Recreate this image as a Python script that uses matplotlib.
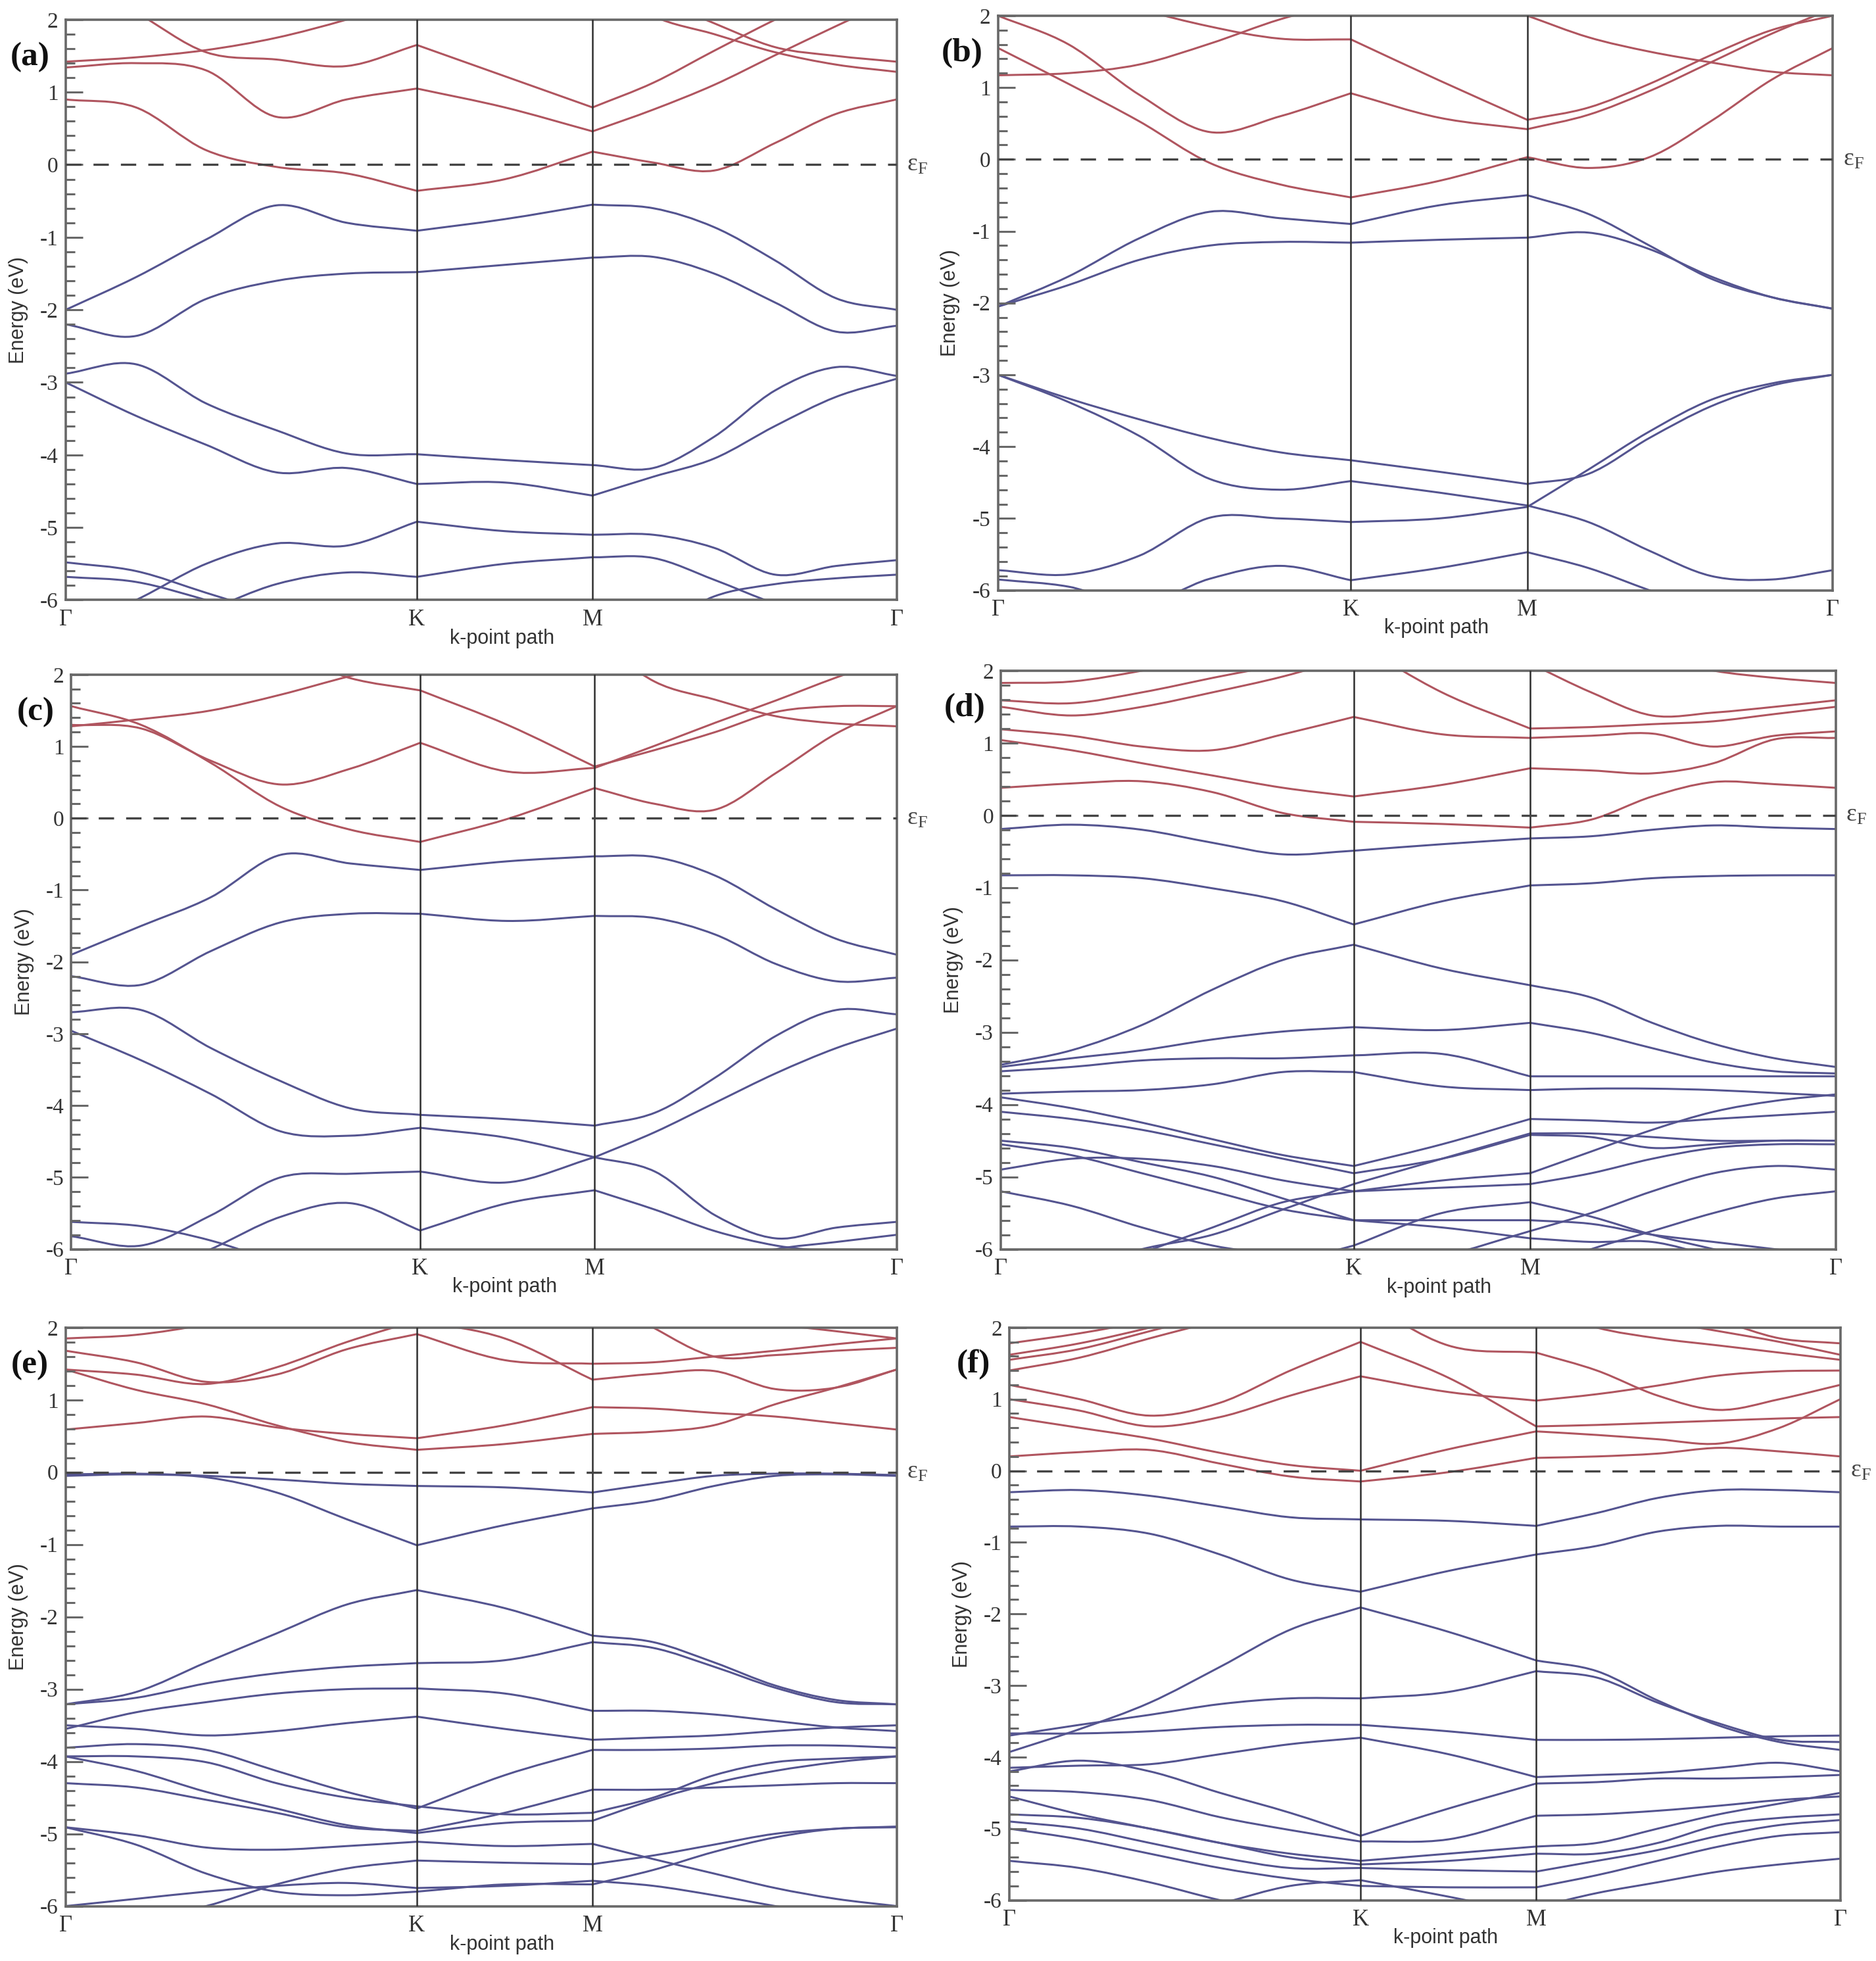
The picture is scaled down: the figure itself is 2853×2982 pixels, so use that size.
import numpy as np
import matplotlib
import matplotlib.pyplot as plt
from matplotlib.path import Path
from matplotlib.patches import PathPatch

plt.rcParams['axes.unicode_minus'] = False

# k-path sample positions (Gamma-K = 1, K-M = 0.5, M-Gamma = 0.866)
kx = [0, 0.2, 0.4, 0.6, 0.8, 1.0, 1.25, 1.5, 1.673, 1.846, 2.02, 2.193, 2.366]
k_ticks = [0, 1.0, 1.5, 2.366]
k_labels = ['Γ', 'K', 'M', 'Γ']
panel_names = ['(a)', '(b)', '(c)', '(d)', '(e)', '(f)']

# band energies (eV) read at the kx points, conduction (red) and valence (blue)
a_cb = [
    [0.90, 0.79, 0.20, -0.03, -0.12, -0.36, -0.20, 0.18, 0.03, -0.08, 0.30, 0.70, 0.90],
    [1.34, 1.40, 1.30, 0.66, 0.90, 1.05, 0.79, 0.46, 0.76, 1.10, 1.51, 1.91, 2.30],
    [1.42, 1.48, 1.58, 1.75, 2.00, 2.30, 2.60, 2.60, 2.30, 1.95, 1.62, 1.50, 1.42],
    [2.60, 2.10, 1.55, 1.45, 1.36, 1.65, 1.22, 0.79, 1.13, 1.57, 2.00, 2.40, 2.70],
    [2.80, 2.60, 2.30, 2.10, 2.20, 2.40, 2.60, 2.60, 2.05, 1.80, 1.55, 1.38, 1.28],
]
a_vb = [
    [-2.00, -1.55, -1.03, -0.56, -0.80, -0.91, -0.75, -0.55, -0.60, -0.86, -1.32, -1.84, -2.00],
    [-2.20, -2.36, -1.85, -1.60, -1.50, -1.48, -1.38, -1.28, -1.27, -1.50, -1.90, -2.30, -2.22],
    [-2.88, -2.75, -3.29, -3.66, -3.98, -3.99, -4.07, -4.14, -4.18, -3.75, -3.11, -2.79, -2.91],
    [-3.00, -3.46, -3.86, -4.24, -4.18, -4.40, -4.38, -4.56, -4.30, -4.05, -3.60, -3.20, -2.95],
    [-6.40, -6.00, -5.50, -5.22, -5.25, -4.92, -5.05, -5.10, -5.10, -5.28, -5.65, -5.53, -5.45],
    [-5.48, -5.60, -5.90, -6.20, -6.50, -6.60, -6.60, -6.60, -6.40, -5.95, -5.78, -5.70, -5.65],
    [-5.68, -5.75, -6.00, -6.30, -6.50, -6.60, -6.60, -6.60, -6.60, -6.50, -6.30, -6.10, -6.00],
    [-6.60, -6.50, -6.15, -5.78, -5.62, -5.68, -5.50, -5.41, -5.42, -5.72, -6.05, -6.30, -6.50],
]

b_cb = [
    [1.55, 1.05, 0.53, -0.05, -0.35, -0.53, -0.30, 0.03, -0.12, 0.03, 0.53, 1.11, 1.55],
    [2.00, 1.60, 0.90, 0.38, 0.60, 0.92, 0.58, 0.42, 0.62, 0.95, 1.35, 1.75, 2.10],
    [1.17, 1.20, 1.32, 1.61, 1.95, 2.20, 2.20, 2.00, 1.70, 1.50, 1.35, 1.22, 1.17],
    [2.60, 2.45, 2.10, 1.85, 1.68, 1.67, 1.10, 0.55, 0.72, 1.05, 1.45, 1.80, 2.00],
]
b_vb = [
    [-2.05, -1.63, -1.10, -0.73, -0.82, -0.90, -0.64, -0.50, -0.76, -1.20, -1.66, -1.92, -2.08],
    [-2.05, -1.75, -1.40, -1.20, -1.15, -1.16, -1.12, -1.09, -1.02, -1.25, -1.63, -1.92, -2.08],
    [-3.00, -3.33, -3.62, -3.88, -4.08, -4.19, -4.35, -4.52, -4.38, -3.88, -3.44, -3.15, -3.00],
    [-3.00, -3.38, -3.85, -4.45, -4.60, -4.48, -4.64, -4.82, -5.05, -5.45, -5.80, -5.85, -5.72],
    [-5.72, -5.78, -5.52, -4.99, -5.00, -5.05, -5.00, -4.84, -4.32, -3.79, -3.35, -3.12, -3.00],
    [-5.85, -5.95, -6.20, -5.84, -5.66, -5.86, -5.69, -5.47, -5.69, -6.00, -6.30, -6.20, -6.05],
]

c_cb = [
    [1.56, 1.30, 0.77, 0.16, -0.16, -0.33, -0.01, 0.42, 0.20, 0.12, 0.63, 1.18, 1.56],
    [1.30, 1.25, 0.80, 0.47, 0.69, 1.05, 0.65, 0.70, 1.01, 1.33, 1.64, 1.96, 2.25],
    [1.28, 1.38, 1.50, 1.72, 1.98, 2.20, 2.40, 2.50, 1.90, 1.65, 1.42, 1.32, 1.28],
    [2.60, 2.50, 2.35, 2.30, 1.95, 1.78, 1.30, 0.72, 0.95, 1.20, 1.48, 1.56, 1.56],
]
c_vb = [
    [-1.90, -1.50, -1.10, -0.51, -0.63, -0.72, -0.60, -0.53, -0.54, -0.80, -1.27, -1.68, -1.90],
    [-2.20, -2.32, -1.85, -1.45, -1.33, -1.33, -1.43, -1.36, -1.39, -1.62, -2.03, -2.27, -2.22],
    [-2.70, -2.67, -3.20, -3.66, -4.04, -4.13, -4.19, -4.28, -4.10, -3.61, -3.03, -2.67, -2.73],
    [-2.96, -3.37, -3.84, -4.36, -4.42, -4.31, -4.45, -4.72, -4.92, -5.53, -5.85, -5.70, -5.62],
    [-5.82, -5.95, -5.53, -5.00, -4.95, -4.92, -5.07, -4.72, -4.37, -3.96, -3.55, -3.20, -2.93],
    [-6.60, -6.40, -6.00, -5.55, -5.36, -5.74, -5.36, -5.18, -5.45, -5.75, -5.95, -6.05, -6.20],
    [-5.62, -5.68, -5.88, -6.20, -6.50, -6.60, -6.60, -6.50, -6.40, -6.20, -6.00, -5.90, -5.80],
]

d_cb = [
    [0.38, 0.44, 0.47, 0.32, 0.03, -0.09, -0.12, -0.17, -0.06, 0.26, 0.46, 0.43, 0.38],
    [1.04, 0.90, 0.72, 0.55, 0.38, 0.26, 0.42, 0.65, 0.62, 0.58, 0.72, 1.05, 1.07],
    [1.19, 1.10, 0.95, 0.90, 1.12, 1.36, 1.12, 1.07, 1.10, 1.13, 0.95, 1.10, 1.16],
    [1.50, 1.38, 1.50, 1.70, 1.92, 2.20, 2.40, 2.10, 1.70, 1.38, 1.42, 1.50, 1.59],
    [1.59, 1.55, 1.70, 1.90, 2.10, 2.40, 1.70, 1.20, 1.22, 1.26, 1.30, 1.40, 1.50],
    [1.83, 1.85, 2.00, 2.20, 2.40, 2.60, 2.60, 2.60, 2.40, 2.20, 2.00, 1.90, 1.83],
]
d_vb = [
    [-0.19, -0.13, -0.20, -0.38, -0.54, -0.49, -0.40, -0.32, -0.29, -0.20, -0.14, -0.17, -0.19],
    [-0.83, -0.83, -0.87, -1.01, -1.19, -1.51, -1.19, -0.97, -0.94, -0.87, -0.84, -0.83, -0.83],
    [-3.45, -3.25, -2.90, -2.41, -2.00, -1.79, -2.12, -2.35, -2.52, -2.87, -3.16, -3.36, -3.48],
    [-3.48, -3.36, -3.25, -3.10, -2.99, -2.93, -2.97, -2.87, -3.01, -3.22, -3.42, -3.54, -3.57],
    [-3.54, -3.48, -3.39, -3.36, -3.36, -3.32, -3.30, -3.61, -3.61, -3.61, -3.61, -3.61, -3.61],
    [-3.85, -3.82, -3.80, -3.72, -3.55, -3.55, -3.75, -3.80, -3.78, -3.78, -3.80, -3.84, -3.88],
    [-3.90, -4.05, -4.25, -4.48, -4.70, -4.85, -4.55, -4.20, -4.22, -4.25, -4.20, -4.15, -4.10],
    [-4.10, -4.20, -4.35, -4.55, -4.75, -4.95, -4.75, -4.42, -4.45, -4.60, -4.55, -4.50, -4.50],
    [-4.50, -4.60, -4.80, -5.00, -5.30, -5.60, -5.70, -5.85, -5.90, -5.90, -6.10, -6.30, -6.40],
    [-4.55, -4.70, -4.95, -5.20, -5.45, -5.60, -5.60, -5.60, -5.65, -5.80, -5.90, -6.00, -6.10],
    [-4.90, -4.75, -4.75, -4.85, -5.05, -5.20, -5.15, -5.10, -4.95, -4.75, -4.60, -4.55, -4.55],
    [-5.20, -5.40, -5.70, -5.95, -6.10, -6.30, -6.10, -5.75, -5.50, -5.20, -4.95, -4.85, -4.90],
    [-6.60, -6.40, -6.05, -5.70, -5.35, -5.20, -5.05, -4.95, -4.65, -4.35, -4.10, -3.95, -3.86],
    [-6.50, -6.30, -6.00, -5.80, -5.45, -5.10, -4.75, -4.40, -4.40, -4.45, -4.50, -4.50, -4.50],
    [-6.60, -6.50, -6.40, -6.30, -6.20, -5.95, -5.50, -5.35, -5.55, -5.80, -6.00, -6.20, -6.30],
    [-6.60, -6.60, -6.60, -6.60, -6.60, -6.60, -6.50, -6.30, -6.00, -5.75, -5.50, -5.30, -5.20],
]

e_cb = [
    [0.59, 0.68, 0.77, 0.62, 0.53, 0.47, 0.65, 0.90, 0.88, 0.82, 0.77, 0.68, 0.59],
    [1.42, 1.14, 0.94, 0.65, 0.42, 0.31, 0.39, 0.53, 0.56, 0.65, 0.94, 1.17, 1.42],
    [1.68, 1.52, 1.25, 1.35, 1.70, 1.91, 1.55, 1.50, 1.52, 1.60, 1.68, 1.77, 1.85],
    [1.42, 1.35, 1.22, 1.45, 1.80, 2.10, 1.85, 1.28, 1.36, 1.40, 1.15, 1.17, 1.42],
    [1.85, 1.90, 2.05, 2.30, 2.50, 2.60, 2.60, 2.60, 2.40, 2.20, 2.05, 1.95, 1.85],
    [2.60, 2.60, 2.60, 2.60, 2.60, 2.60, 2.60, 2.50, 2.00, 1.60, 1.62, 1.68, 1.72],
]
e_vb = [
    [-0.05, -0.03, -0.07, -0.28, -0.65, -1.01, -0.73, -0.50, -0.39, -0.19, -0.05, -0.03, -0.05],
    [-0.03, -0.02, -0.05, -0.10, -0.16, -0.19, -0.21, -0.28, -0.16, -0.05, -0.02, -0.02, -0.04],
    [-3.21, -3.04, -2.63, -2.23, -1.83, -1.63, -1.88, -2.26, -2.35, -2.63, -2.95, -3.15, -3.21],
    [-3.21, -3.12, -2.92, -2.78, -2.69, -2.64, -2.60, -2.35, -2.43, -2.69, -2.98, -3.18, -3.21],
    [-3.55, -3.32, -3.18, -3.06, -3.00, -2.99, -3.06, -3.30, -3.30, -3.35, -3.44, -3.53, -3.58],
    [-3.50, -3.55, -3.64, -3.58, -3.47, -3.38, -3.55, -3.70, -3.67, -3.64, -3.58, -3.53, -3.50],
    [-3.81, -3.76, -3.84, -4.13, -4.42, -4.65, -4.19, -3.84, -3.84, -3.82, -3.78, -3.78, -3.81],
    [-3.93, -3.93, -4.01, -4.30, -4.50, -4.62, -4.73, -4.71, -4.50, -4.19, -4.01, -3.96, -3.93],
    [-3.93, -4.13, -4.42, -4.65, -4.88, -4.99, -4.85, -4.82, -4.53, -4.30, -4.13, -4.01, -3.93],
    [-4.30, -4.36, -4.53, -4.71, -4.91, -4.96, -4.71, -4.39, -4.39, -4.36, -4.33, -4.30, -4.30],
    [-4.91, -5.02, -5.19, -5.22, -5.17, -5.11, -5.17, -5.14, -5.35, -5.55, -5.75, -5.90, -6.00],
    [-4.91, -5.15, -5.55, -5.80, -5.85, -5.80, -5.70, -5.70, -5.50, -5.25, -5.05, -4.93, -4.91],
    [-6.40, -6.20, -6.00, -5.70, -5.48, -5.37, -5.40, -5.42, -5.30, -5.15, -5.00, -4.93, -4.90],
    [-6.00, -5.90, -5.80, -5.72, -5.68, -5.75, -5.72, -5.65, -5.72, -5.85, -6.00, -6.15, -6.30],
]

f_cb = [
    [0.20, 0.26, 0.29, 0.10, -0.08, -0.15, -0.02, 0.18, 0.20, 0.24, 0.32, 0.27, 0.20],
    [0.75, 0.60, 0.45, 0.25, 0.08, 0.00, 0.30, 0.55, 0.50, 0.44, 0.38, 0.60, 1.00],
    [1.00, 0.84, 0.62, 0.75, 1.05, 1.32, 1.10, 0.98, 1.07, 1.19, 1.33, 1.39, 1.40],
    [1.20, 1.00, 0.77, 0.95, 1.40, 1.80, 1.30, 0.62, 0.64, 0.67, 0.70, 0.73, 0.75],
    [1.40, 1.58, 1.85, 2.10, 2.30, 2.40, 1.75, 1.65, 1.40, 1.05, 0.85, 1.00, 1.20],
    [1.55, 1.70, 1.95, 2.20, 2.40, 2.60, 2.60, 2.30, 2.00, 1.85, 1.75, 1.65, 1.55],
    [1.62, 1.78, 2.00, 2.25, 2.40, 2.60, 2.60, 2.60, 2.30, 2.10, 1.95, 1.80, 1.62],
    [1.78, 1.92, 2.10, 2.30, 2.50, 2.60, 2.60, 2.60, 2.50, 2.30, 2.10, 1.85, 1.78],
]
f_vb = [
    [-0.30, -0.27, -0.35, -0.50, -0.65, -0.68, -0.70, -0.77, -0.59, -0.38, -0.27, -0.27, -0.30],
    [-0.78, -0.78, -0.88, -1.17, -1.52, -1.69, -1.40, -1.17, -1.05, -0.85, -0.77, -0.78, -0.78],
    [-3.93, -3.61, -3.24, -2.74, -2.22, -1.91, -2.25, -2.65, -2.80, -3.21, -3.56, -3.79, -3.90],
    [-3.70, -3.55, -3.41, -3.26, -3.18, -3.18, -3.09, -2.80, -2.89, -3.24, -3.53, -3.76, -3.79],
    [-3.67, -3.67, -3.64, -3.58, -3.55, -3.55, -3.64, -3.76, -3.76, -3.75, -3.73, -3.71, -3.70],
    [-4.15, -4.12, -4.10, -3.96, -3.82, -3.73, -3.96, -4.28, -4.25, -4.22, -4.15, -4.08, -4.20],
    [-4.20, -4.05, -4.20, -4.50, -4.78, -5.10, -4.72, -4.37, -4.35, -4.30, -4.30, -4.28, -4.25],
    [-4.46, -4.49, -4.60, -4.84, -5.02, -5.18, -5.15, -4.82, -4.80, -4.75, -4.68, -4.60, -4.55],
    [-4.55, -4.80, -5.00, -5.20, -5.35, -5.45, -5.35, -5.25, -5.20, -5.00, -4.80, -4.65, -4.50],
    [-4.80, -4.85, -5.00, -5.20, -5.40, -5.50, -5.45, -5.35, -5.35, -5.20, -4.95, -4.85, -4.80],
    [-4.90, -5.00, -5.20, -5.40, -5.55, -5.55, -5.58, -5.60, -5.45, -5.30, -5.10, -4.95, -4.88],
    [-5.00, -5.15, -5.35, -5.55, -5.70, -5.80, -5.82, -5.82, -5.65, -5.45, -5.25, -5.10, -5.05],
    [-5.45, -5.55, -5.75, -6.00, -6.20, -6.40, -6.40, -6.10, -5.90, -5.75, -5.60, -5.50, -5.42],
    [-6.60, -6.50, -6.30, -6.05, -5.80, -5.72, -5.95, -6.20, -6.40, -6.50, -6.60, -6.60, -6.60],
]

cb_all = [a_cb, b_cb, c_cb, d_cb, e_cb, f_cb]
vb_all = [a_vb, b_vb, c_vb, d_vb, e_vb, f_vb]

# axes rectangles [left, bottom, width, height] in figure fraction
rects = [
    [0.035, 0.694, 0.443, 0.296],
    [0.532, 0.699, 0.445, 0.293],
    [0.038, 0.363, 0.440, 0.293],
    [0.5335, 0.363, 0.445, 0.295],
    [0.035, 0.028, 0.443, 0.295],
    [0.538, 0.031, 0.443, 0.292],
]

RED = '#b0555f'
BLUE = '#545490'
FRAME = '#686868'
SEGS = [(0, 5), (5, 7), (7, 12)]


def band_path(x, y):
    # smooth cubic curve through the read points, one piece per path segment
    x = np.asarray(x, float)
    y = np.asarray(y, float)
    verts = [(x[0], y[0])]
    codes = [Path.MOVETO]
    for i0, i1 in SEGS:
        xs = x[i0:i1 + 1]
        ys = y[i0:i1 + 1]
        n = len(xs)
        m = np.zeros(n)
        m[0] = (ys[1] - ys[0]) / (xs[1] - xs[0])
        m[-1] = (ys[-1] - ys[-2]) / (xs[-1] - xs[-2])
        for j in range(1, n - 1):
            m[j] = (ys[j + 1] - ys[j - 1]) / (xs[j + 1] - xs[j - 1])
        for j in range(n - 1):
            h = xs[j + 1] - xs[j]
            verts += [(xs[j] + h / 3, ys[j] + m[j] * h / 3),
                      (xs[j + 1] - h / 3, ys[j + 1] - m[j + 1] * h / 3),
                      (xs[j + 1], ys[j + 1])]
            codes += [Path.CURVE4] * 3
    return Path(verts, codes)


fig = plt.figure(figsize=(28.53, 29.82), dpi=100)

for p in range(6):
    ax = fig.add_axes(rects[p])
    ax.set_xlim(0, kx[-1])
    ax.set_ylim(-6, 2)

    for band in vb_all[p]:
        ax.add_patch(PathPatch(band_path(kx, band), fill=False, edgecolor=BLUE, lw=2.2))
    for band in cb_all[p]:
        ax.add_patch(PathPatch(band_path(kx, band), fill=False, edgecolor=RED, lw=2.2))

    for kv in k_ticks[1:3]:
        ax.axvline(kv, color='#2e2e2e', lw=1.8, zorder=3)
    ax.axhline(0, color='#444444', lw=2.4, ls=(0, (7, 5.5)), zorder=4)

    for s in ax.spines.values():
        s.set_color(FRAME)
        s.set_linewidth(2.6)

    ax.set_yticks(np.arange(-6, 3, 1))
    ax.set_yticks(np.arange(-6, 2.01, 0.2), minor=True)
    ax.set_yticklabels([str(v) for v in range(-6, 3)])
    ax.tick_params(axis='y', which='major', direction='in', length=19, width=2.2,
                   color=FRAME, pad=8, labelsize=24, labelcolor='#333333')
    ax.tick_params(axis='y', which='minor', direction='in', length=10, width=2.2,
                   color=FRAME)
    ax.set_xticks(k_ticks)
    ax.set_xticklabels(k_labels)
    ax.tick_params(axis='x', length=0, pad=10, labelsize=25, labelcolor='#333333')
    for lab in ax.get_yticklabels() + ax.get_xticklabels():
        lab.set_fontfamily('Liberation Serif')

    ax.text(0.525, -0.066, 'k-point path', transform=ax.transAxes, ha='center',
            va='center', fontsize=22, family='Liberation Sans', color='#333333')
    ax.text(-0.057, 0.5, 'Energy (eV)', transform=ax.transAxes, ha='center',
            va='center', rotation=90, fontsize=22, family='Liberation Sans',
            color='#333333')
    ax.text(-0.043, 0.935, panel_names[p], transform=ax.transAxes, ha='center',
            va='center', fontsize=37, fontweight='bold', family='Liberation Serif',
            color='#111111')
    ax.text(1.012, 0, r'$\mathregular{ε_F}$', transform=ax.get_yaxis_transform(),
            ha='left', va='center', fontsize=27, family='Liberation Serif',
            color='#444444')

fig.savefig('out.png', dpi=100)
